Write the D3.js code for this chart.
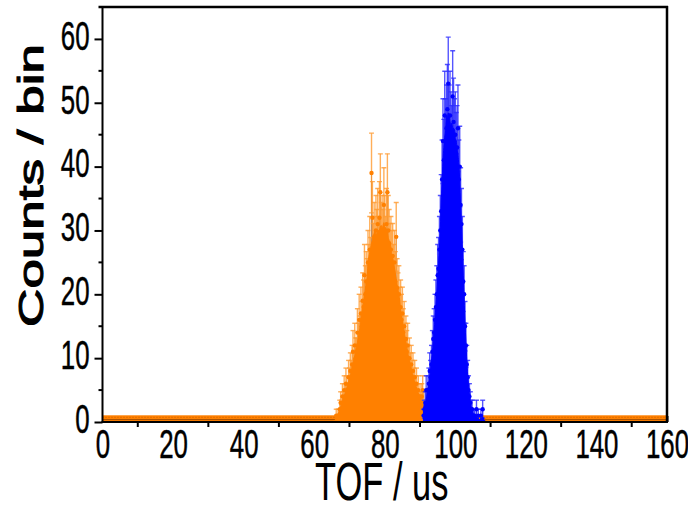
<!DOCTYPE html>
<html><head><meta charset="utf-8">
<script src="https://cdn.jsdelivr.net/npm/d3@7"></script>
<style>html,body{margin:0;padding:0;background:#fff;}svg{display:block;}</style>
</head><body>
<svg id="chart" width="688" height="510"></svg>
<script>
// ---------- data ----------
const binWidth = 0.25;                 // us
const orangeStart = 66.0;              // centre of first orange bin (us)
const orangeCounts = [
 0,1,0,1,
 1,2,3,2,4,3,5,4,6,5,4,7,6,8,7,9,11,8,12,10,
 10,14,12,16,13,17,15,19,18,23,20,22,21,25,23,27,24,39,32,26,
 29,27,30,28,31,27,32,36,29,30,28,34,30,27,31,36,30,28,26,27,
 25,26,23,25,22,29,21,19,20,17,18,16,17,14,15,12,13,11,12,9,
 10,8,9,7,8,6,7,5,6,4,5,3,4,3,4,5,3,2,2,1,2,1,1,1
];
const blueStart = 91.0;
const blueCounts = [
 1,2,3,5,3,5,6,8,7,9,11,13,14,16,18,20,23,24,27,30,
 33,38,44,41,48,44,46,49,53,46,48,45,43,51,47,44,45,42,43,46,
 38,40,34,31,27,22,20,15,12,9,7,5,4,3,2,2,1,1,1,0,
 2,0,1,0,0,1,0,2,0
];
const background = [{from: 0, to: 160, level: 1.05}];
const xTicks = [0,20,40,60,80,100,120,140,160];
const xMinor = [10,30,50,70,90,110,130,150];
const yTicks = [0,10,20,30,40,50,60];
const yMinor = [5,15,25,35,45,55];
const xTitle = "TOF / us";
const yTitle = "Counts / bin";

// ---------- layout ----------
const svg = d3.select("#chart");
const X0 = 102.5, X1 = 667, Y0 = 422, Y1 = 7;
const x = d3.scaleLinear().domain([0,160]).range([X0,X1]);
const y = d3.scaleLinear().domain([0,65]).range([Y0,Y1]);
const FONT = "'Liberation Sans', Arial, sans-serif";

function toBins(start, counts){
  return counts.map((c,i)=>({x: start + i*binWidth, c}));
}
const orange = toBins(orangeStart, orangeCounts);
const blue = toBins(blueStart, blueCounts);
function smooth(bins, w){
  return bins.map((d,i)=>{
    const s = bins.slice(Math.max(0,i-w), Math.min(bins.length,i+w+1));
    return {x:d.x, v:d3.mean(s, e=>e.c)};
  });
}

svg.append("defs").append("clipPath").attr("id","clip")
  .append("rect").attr("x",X0).attr("y",Y1).attr("width",X1-X0).attr("height",Y0-Y1);

// ---------- axes ----------
const gx = svg.append("g").attr("transform",`translate(0,${Y0})`)
  .call(d3.axisBottom(x).tickValues(xTicks).tickSize(-6).tickPadding(0));
gx.select(".domain").remove();
gx.attr("font-size",null).attr("font-family",null);
gx.selectAll("line").attr("stroke","#000").attr("stroke-width",2);
gx.selectAll("text").style("font-family",FONT).style("font-size","41px").attr("fill","#000")
  .attr("stroke","#000").attr("stroke-width",0.5)
  .attr("y",0).attr("dy",0)
  .attr("transform","translate(0,36) scale(0.63,1)");
svg.append("g").selectAll("line").data(xMinor).join("line")
  .attr("x1",d=>x(d)).attr("x2",d=>x(d)).attr("y1",Y0).attr("y2",Y0+5)
  .attr("stroke","#000").attr("stroke-width",2);

const gy = svg.append("g").attr("transform",`translate(${X0},0)`)
  .call(d3.axisLeft(y).tickValues(yTicks).tickSize(8).tickPadding(0));
gy.select(".domain").remove();
gy.attr("font-size",null).attr("font-family",null);
gy.selectAll("line").attr("stroke","#000").attr("stroke-width",2);
gy.selectAll("text").style("font-family",FONT).style("font-size","41px").attr("fill","#000")
  .attr("stroke","#000").attr("stroke-width",0.5)
  .attr("x",0).attr("dy","0.25em")
  .attr("transform","translate(-13,0) scale(0.63,1)");
svg.append("g").selectAll("line").data(yMinor).join("line")
  .attr("x1",X0-4).attr("x2",X0).attr("y1",d=>y(d)).attr("y2",d=>y(d))
  .attr("stroke","#000").attr("stroke-width",2);

// ---------- data layer ----------
const plot = svg.append("g").attr("clip-path","url(#clip)");

// background band
background.forEach(b=>{
  plot.append("rect").attr("x",x(b.from)).attr("width",x(b.to)-x(b.from))
    .attr("y",y(b.level)).attr("height",y(0)-y(b.level)).attr("fill","#FF8000");
  plot.append("line").attr("x1",x(b.from)).attr("x2",x(b.to))
    .attr("y1",y(b.level*0.35)).attr("y2",y(b.level*0.35))
    .attr("stroke","#A04C00").attr("stroke-width",1);
  plot.append("line").attr("x1",x(b.from)).attr("x2",x(b.to))
    .attr("y1",y(b.level*0.7)).attr("y2",y(b.level*0.7))
    .attr("stroke","#C86000").attr("stroke-width",1).attr("stroke-dasharray","1,2");
});

function drawSeries(bins, fill, dark, err, w){
  const g = plot.append("g");
  // bar lines
  g.selectAll("line.bar").data(bins).join("line").attr("class","bar")
    .attr("x1",d=>x(d.x)).attr("x2",d=>x(d.x))
    .attr("y1",y(0)).attr("y2",d=>y(d.c))
    .attr("stroke",dark).attr("stroke-width",0.9).attr("stroke-opacity",0.6);
  // error bars
  const eb = g.selectAll("g.eb").data(bins.filter(d=>d.c>0)).join("g").attr("class","eb")
    .attr("stroke",err).attr("stroke-width",1.4).attr("stroke-opacity",0.8);
  eb.append("line").attr("x1",d=>x(d.x)).attr("x2",d=>x(d.x))
    .attr("y1",d=>y(d.c-Math.sqrt(d.c))).attr("y2",d=>y(d.c+Math.sqrt(d.c)));
  eb.append("line").attr("x1",d=>x(d.x)-2.5).attr("x2",d=>x(d.x)+2.5)
    .attr("y1",d=>y(d.c+Math.sqrt(d.c))).attr("y2",d=>y(d.c+Math.sqrt(d.c)));
  eb.append("line").attr("x1",d=>x(d.x)-2.5).attr("x2",d=>x(d.x)+2.5)
    .attr("y1",d=>y(d.c-Math.sqrt(d.c))).attr("y2",d=>y(d.c-Math.sqrt(d.c)));
  // filled body
  const sm = smooth(bins, w);
  const area = d3.area().x(d=>x(d.x)).y0(y(0)).y1(d=>y(d.v)).curve(d3.curveMonotoneX);
  g.append("path").datum(sm).attr("d",area).attr("fill",fill)
    .attr("stroke",fill).attr("stroke-width",1);
  // points
  g.selectAll("circle").data(bins).join("circle")
    .attr("cx",d=>x(d.x)).attr("cy",d=>y(d.c)).attr("r",2.2).attr("fill",fill);
}
drawSeries(orange, "#FF8000", "#6B3300", "#FF9A30", 4);
drawSeries(blue, "#0000FF", "#000070", "#2A2AFF", 2);

// ---------- frame ----------
svg.append("line").attr("x1",X0).attr("x2",X0).attr("y1",Y1-1).attr("y2",Y0+1).attr("stroke","#000").attr("stroke-width",2);
svg.append("line").attr("x1",X0-1).attr("x2",X1+1).attr("y1",Y0).attr("y2",Y0).attr("stroke","#000").attr("stroke-width",2);
svg.append("line").attr("x1",X0-4).attr("x2",X1+1).attr("y1",Y1).attr("y2",Y1).attr("stroke","#000").attr("stroke-width",2.5);
svg.append("line").attr("x1",X1).attr("x2",X1).attr("y1",Y1-1).attr("y2",Y0).attr("stroke","#000").attr("stroke-width",2.5);

// ---------- titles ----------
svg.append("text").text(xTitle)
  .style("font-family",FONT).style("font-size","53px").attr("text-anchor","middle").attr("fill","#000")
  .attr("transform",`translate(${(X0+X1)/2-3},500) scale(0.65,1)`);
svg.append("text").text(yTitle)
  .style("font-family",FONT).style("font-size","53px").attr("text-anchor","middle").attr("fill","#000")
  .attr("stroke","#000").attr("stroke-width",1.6)
  .attr("transform",`translate(43,${(Y0+Y1)/2-29}) rotate(-90) scale(1,0.66)`);
</script>
</body></html>
